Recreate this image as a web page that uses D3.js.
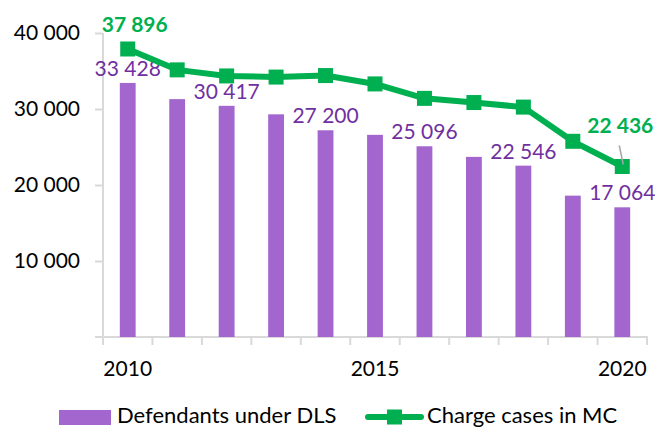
<!DOCTYPE html>
<html>
<head>
<meta charset="utf-8">
<script src="https://cdn.jsdelivr.net/npm/d3@7"></script>
<style>
  body { margin: 0; background: #fff; }
  svg text { font-family: Lato, "Open Sans", sans-serif; }
</style>
</head>
<body>
<svg id="chart" width="655" height="427"></svg>
<script>
// chart data
const years      = [2010, 2011, 2012, 2013, 2014, 2015, 2016, 2017, 2018, 2019, 2020];
const defendants = [33428, 31300, 30417, 29300, 27200, 26600, 25096, 23700, 22546, 18600, 17064];
const charges    = [37896, 35150, 34350, 34200, 34400, 33300, 31400, 30850, 30250, 25750, 22436];
const yTicks     = [10000, 20000, 30000, 40000];
const yearLabels = [2010, 2015, 2020];
const barLabelYears    = [2010, 2012, 2014, 2016, 2018, 2020];
const chargeLabelYears = [2010, 2020];

const purple     = "#a366cf";
const purpleText = "#7030a0";
const green      = "#00b050";
const axisGray   = "#d9d9d9";

const fmt = v => d3.format(",")(v).replace(/,/g, " ");

const svg = d3.select("#chart");

const x = d3.scaleBand()
    .domain(years)
    .range([103, 647])
    .paddingInner(0.68)
    .paddingOuter(0.34);

const y = d3.scaleLinear()
    .domain([0, 40000])
    .range([337, 33]);

const cx = d => x(d) + x.bandwidth() / 2;

// y axis
const yAxis = svg.append("g")
    .attr("transform", "translate(103,0)")
    .call(d3.axisLeft(y).tickValues(yTicks).tickSize(8).tickFormat(fmt));
yAxis.select(".domain").attr("stroke", axisGray).attr("stroke-width", 2)
    .attr("d", "M0," + y(40000) + "V" + y(0));
yAxis.selectAll(".tick line").attr("stroke", axisGray).attr("stroke-width", 2);
yAxis.selectAll(".tick text")
    .attr("x", -23)
    .attr("font-size", 21)
    .attr("fill", "#000");

// x axis, ticks between categories
const step = x.step();
const boundaries = years.map(d => cx(d) - step / 2).concat([cx(years[years.length - 1]) + step / 2]);
const xAxis = svg.append("g");
xAxis.append("line")
    .attr("x1", 95).attr("x2", 648)
    .attr("y1", y(0)).attr("y2", y(0))
    .attr("stroke", axisGray).attr("stroke-width", 2);
xAxis.selectAll("line.tick")
    .data(boundaries)
    .enter()
    .append("line")
    .attr("class", "tick")
    .attr("x1", d => d).attr("x2", d => d)
    .attr("y1", y(0)).attr("y2", y(0) + 8)
    .attr("stroke", axisGray).attr("stroke-width", 2);
xAxis.selectAll("text")
    .data(yearLabels)
    .enter()
    .append("text")
    .attr("x", d => cx(d))
    .attr("y", 376)
    .attr("text-anchor", "middle")
    .attr("font-size", 21)
    .attr("fill", "#000")
    .text(d => d);

// bars
svg.append("g")
    .selectAll("rect")
    .data(years)
    .enter()
    .append("rect")
    .attr("x", d => x(d))
    .attr("width", x.bandwidth())
    .attr("y", (d, i) => y(defendants[i]))
    .attr("height", (d, i) => y(0) - y(defendants[i]))
    .attr("fill", purple);

// bar labels
svg.append("g")
    .selectAll("text")
    .data(barLabelYears)
    .enter()
    .append("text")
    .attr("x", d => cx(d))
    .attr("y", d => y(defendants[years.indexOf(d)]) - 7)
    .attr("text-anchor", "middle")
    .attr("font-size", 21)
    .attr("fill", purpleText)
    .text(d => fmt(defendants[years.indexOf(d)]));

// line
const line = d3.line()
    .x(d => cx(d))
    .y((d, i) => y(charges[i]));

svg.append("path")
    .datum(years)
    .attr("d", line)
    .attr("fill", "none")
    .attr("stroke", green)
    .attr("stroke-width", 6)
    .attr("stroke-linejoin", "round");

svg.append("g")
    .selectAll("rect")
    .data(years)
    .enter()
    .append("rect")
    .attr("x", d => cx(d) - 7.5)
    .attr("y", (d, i) => y(charges[i]) - 7.5)
    .attr("width", 15)
    .attr("height", 15)
    .attr("fill", green);

// leader line for last label
const last = years[years.length - 1];
svg.append("line")
    .attr("x1", cx(last) - 3).attr("y1", y(charges[charges.length - 1]) - 21)
    .attr("x2", cx(last) + 1).attr("y2", y(charges[charges.length - 1]) - 2)
    .attr("stroke", "#a6a6a6").attr("stroke-width", 1.5);

// line labels
svg.append("g")
    .selectAll("text")
    .data(chargeLabelYears)
    .enter()
    .append("text")
    .attr("x", (d, i) => i === 0 ? cx(d) + 7 : cx(d) - 2)
    .attr("y", (d, i) => y(charges[years.indexOf(d)]) - (i === 0 ? 17 : 33))
    .attr("text-anchor", "middle")
    .attr("font-size", 21)
    .attr("font-weight", "bold")
    .attr("fill", green)
    .text(d => fmt(charges[years.indexOf(d)]));

// legend
const legend = svg.append("g");
legend.append("rect")
    .attr("x", 59).attr("y", 410)
    .attr("width", 52).attr("height", 15)
    .attr("fill", purple);
legend.append("text")
    .attr("x", 117).attr("y", 423)
    .attr("font-size", 22)
    .attr("fill", "#000")
    .text("Defendants under DLS");
legend.append("line")
    .attr("x1", 368).attr("x2", 421)
    .attr("y1", 417).attr("y2", 417)
    .attr("stroke", green).attr("stroke-width", 6)
    .attr("stroke-linecap", "round");
legend.append("rect")
    .attr("x", 387).attr("y", 409.5)
    .attr("width", 15).attr("height", 15)
    .attr("fill", green);
legend.append("text")
    .attr("x", 427).attr("y", 423)
    .attr("font-size", 22)
    .attr("fill", "#000")
    .text("Charge cases in MC");
</script>
</body>
</html>
